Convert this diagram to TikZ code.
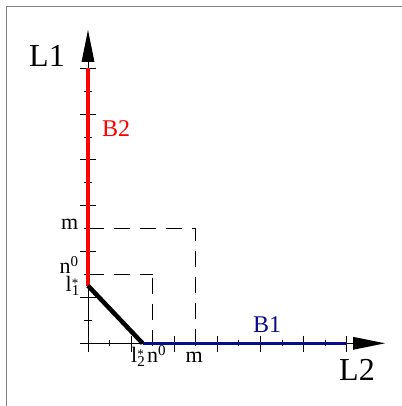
\documentclass[tikz,border=0pt]{standalone}
\usepackage{fontspec}
\setmainfont{Liberation Serif}
\definecolor{bnavy}{RGB}{10,10,140}
\newcommand{\smf}{\fontsize{15}{15}\selectfont}
\newcommand{\supz}{\raisebox{7pt}{\smf 0}}
\newcommand{\starsub}[1]{\makebox[0pt][l]{\raisebox{3.5pt}{\fontsize{13}{13}\selectfont *}}\raisebox{-4.5pt}{\smf #1}}
\begin{document}
\begin{tikzpicture}[x=1pt,y=-1pt,
  axis/.style={line width=0.9pt,black},
  tk/.style={line width=0.9pt,black},
  dsh/.style={line width=1.1pt,dash pattern=on 16pt off 10pt},
  lbl/.style={inner sep=0pt,anchor=base west,font=\fontsize{22}{22}\selectfont},
  blbl/.style={inner sep=0pt,anchor=base west,font=\fontsize{24}{24}\selectfont},
  big/.style={inner sep=0pt,anchor=base west,font=\fontsize{32}{32}\selectfont}]
\useasboundingbox (0,0) rectangle (401,406);
\draw[gray,line width=1pt] (6,420) -- (6,7) -- (420,7);
\def\dx{21.55}
\def\dy{22.92}
\coordinate (O) at (88,343.3);
\coordinate (ytip) at (88,30);
\coordinate (xtip) at (385,343.3);
% axes
\draw[axis] (88,352) -- (88,62);
\draw[axis] (80,343.3) -- (353,343.3);
\fill (ytip) -- (81.5,62) -- (94.5,62) -- cycle;
\fill (xtip) -- (353,336.8) -- (353,349.8) -- cycle;
% ticks
\foreach \i in {1,...,12}{
  \pgfmathsetmacro{\xx}{88+\i*\dx}
  \pgfmathsetmacro{\yy}{343.3-\i*\dy}
  \ifodd\i
    \draw[tk] (\xx,339.5) -- (\xx,346);
    \draw[tk] (84,\yy) -- (92,\yy);
  \else
    \draw[tk] (\xx,335.5) -- (\xx,352);
    \draw[tk] (80,\yy) -- (96,\yy);
  \fi
}
\draw[tk] (88,343.3) -- (88,352);
% points
\coordinate (l1) at (88,285.7);
\coordinate (l2) at (142.6,343.3);
\coordinate (y12) at (88,68.3);
\coordinate (x12) at (346.6,343.3);
\coordinate (ym) at (88,228.7);
\coordinate (yn) at (88,274.5);
\coordinate (cm) at (195.75,228.7);
\coordinate (xm) at (195.75,343.3);
\coordinate (cn) at (152.65,274.5);
\coordinate (xn) at (152.65,343.3);
% dashed
\draw[dsh] (ym) -- (cm) -- (xm);
\draw[dsh] (yn) -- (cn);
\draw[dsh,dash phase=-3pt] (cn) -- (xn);
% curves
\draw[red,line width=4pt] (l1) -- (y12);
\draw[bnavy,line width=3pt] (l2) -- (x12);
\draw[black,line width=4.5pt] (l1) -- (l2);
% labels
\node[big] (L1) at (29,67) {L1};
\node[big] (L2) at (339,380) {L2};
\node[blbl,text=red] (B2) at (102,137) {B2};
\node[blbl,text=bnavy] (B1) at (253,332) {B1};
\node[lbl] (my) at (61,229) {m};
\node[lbl] (ny) at (59.5,273.5) {n\supz};
\node[lbl] (ly) at (65.5,291) {l\starsub{1}};
\node[lbl] (lx) at (131,362) {l\starsub{2}};
\node[lbl] (nx) at (147,362) {n\supz};
\node[lbl] (mx) at (185.5,362) {m};
\end{tikzpicture}
\end{document}
